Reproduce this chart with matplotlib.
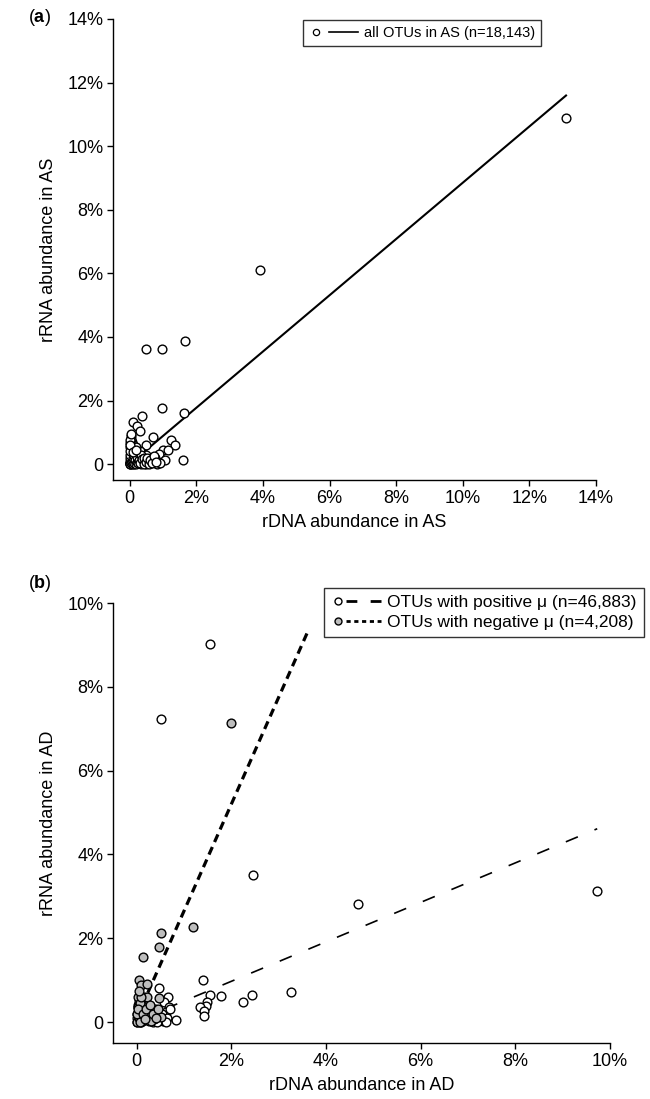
import matplotlib
matplotlib.use("Agg")
import matplotlib.pyplot as plt
from matplotlib.lines import Line2D
from matplotlib.legend_handler import HandlerBase
import numpy as np

plt.rcParams['font.family'] = ['Liberation Sans', 'DejaVu Sans']
plt.rcParams['mathtext.fontset'] = 'custom'
plt.rcParams['mathtext.rm'] = 'Liberation Sans'
plt.rcParams['mathtext.bf'] = 'Liberation Sans:bold'

# ---------------- data panel (a) ----------------
a_x = [13.1, 3.9, 0.48, 0.97, 1.67, 0.97, 1.62, 0.37, 0.10, 0.21, 0.32, 0.05, 0.70, 1.24,
       1.36, 0.48, 1.01, 1.14, 0.88, 1.05, 1.59, 0.83,
       0.00, 0.01, 0.02, 0.03, 0.05, 0.04, 0.06, 0.08, 0.10, 0.12, 0.15, 0.18, 0.20, 0.22,
       0.25, 0.28, 0.30, 0.35, 0.40, 0.45, 0.50, 0.55, 0.60, 0.65, 0.03, 0.05, 0.08, 0.02,
       0.10, 0.06, 0.15, 0.25, 0.40, 0.12, 0.30, 0.50, 0.07, 0.70, 0.75, 0.02, 0.04, 0.18,
       0.35, 0.90,
       0.00, 0.00, 0.00, 0.00, 0.01, 0.02, 0.04, 0.06, 0.09, 0.11, 0.13, 0.14, 0.16, 0.19,
       0.21, 0.23, 0.26, 0.29, 0.32, 0.33, 0.37, 0.42, 0.44, 0.48, 0.52, 0.57, 0.62, 0.68,
       0.72, 0.80, 0.01, 0.03, 0.00, 0.09, 0.20]
a_y = [10.9, 6.1, 3.62, 3.62, 3.86, 1.77, 1.60, 1.52, 1.32, 1.19, 1.05, 0.89, 0.84, 0.77,
       0.59, 0.60, 0.43, 0.43, 0.31, 0.12, 0.12, 0.00,
       0.00, 0.02, 0.05, 0.10, 0.00, 0.15, 0.20, 0.05, 0.10, 0.00, 0.08, 0.03, 0.15, 0.05,
       0.10, 0.02, 0.20, 0.08, 0.05, 0.12, 0.00, 0.10, 0.05, 0.20, 0.30, 0.40, 0.50, 0.55,
       0.60, 0.70, 0.35, 0.30, 0.25, 0.45, 0.40, 0.30, 0.25, 0.10, 0.20, 0.65, 0.80, 0.55,
       0.00, 0.05,
       0.05, 0.10, 0.20, 0.30, 0.40, 0.00, 0.02, 0.08, 0.00, 0.18, 0.05, 0.25, 0.12, 0.00,
       0.08, 0.22, 0.03, 0.12, 0.05, 0.28, 0.15, 0.00, 0.20, 0.08, 0.18, 0.00, 0.12, 0.03,
       0.25, 0.08, 0.75, 0.95, 0.60, 0.38, 0.45]
a_fit = {"slope": 0.885, "intercept": 0.0, "xmin": 0.0, "xmax": 13.1}
a_label = "all OTUs in AS (n=18,143)"
a_xticks = [0, 2, 4, 6, 8, 10, 12, 14]
a_yticks = [0, 2, 4, 6, 8, 10, 12, 14]

# ---------------- data panel (b) ----------------
bp_x = [1.54, 0.52, 2.46, 4.67, 9.73, 1.40, 0.47, 1.54, 1.79, 2.44, 3.25, 2.24, 1.49, 1.46,
        1.34, 1.43, 1.43, 0.66, 0.58, 0.68, 0.61, 0.83,
        0.00, 0.02, 0.05, 0.08, 0.10, 0.15, 0.20, 0.25, 0.30, 0.35, 0.40, 0.45, 0.50, 0.55,
        0.03, 0.06, 0.12, 0.18, 0.28, 0.38, 0.02, 0.08, 0.60, 0.48,
        0.00, 0.01, 0.03, 0.05, 0.07, 0.10, 0.13, 0.16, 0.22, 0.27, 0.32, 0.42, 0.53, 0.65,
        0.70, 0.62]
bp_y = [9.02, 7.23, 3.52, 2.82, 3.13, 1.01, 0.81, 0.65, 0.63, 0.65, 0.72, 0.47, 0.49, 0.39,
        0.35, 0.27, 0.15, 0.59, 0.47, 0.37, 0.25, 0.05,
        0.00, 0.05, 0.02, 0.10, 0.00, 0.06, 0.12, 0.03, 0.08, 0.00, 0.05, 0.15, 0.10, 0.02,
        0.20, 0.30, 0.25, 0.18, 0.22, 0.30, 0.40, 0.45, 0.10, 0.25,
        0.10, 0.20, 0.35, 0.50, 0.00, 0.15, 0.30, 0.05, 0.10, 0.20, 0.15, 0.00, 0.20, 0.10,
        0.30, 0.00]
bn_x = [1.99, 1.20, 0.52, 0.47, 0.13, 0.04, 0.10, 0.21, 0.47, 0.03, 0.15, 0.22, 0.03, 0.17,
        0.32, 0.37, 0.51, 0.00, 0.05, 0.10, 0.08, 0.25, 0.30, 0.12,
        0.00, 0.02, 0.06, 0.14, 0.18, 0.20, 0.28, 0.35, 0.40, 0.45, 0.09, 0.05]
bn_y = [7.14, 2.28, 2.12, 1.79, 1.55, 1.01, 0.88, 0.90, 0.57, 0.59, 0.59, 0.59, 0.35, 0.35,
        0.23, 0.07, 0.11, 0.00, 0.10, 0.20, 0.45, 0.12, 0.02, 0.05,
        0.20, 0.30, 0.00, 0.20, 0.08, 0.30, 0.40, 0.20, 0.10, 0.30, 0.60, 0.75]
bp_fit = {"slope": 0.471, "intercept": 0.03, "xmin": 0.0, "xmax": 9.73}
bn_fit = {"slope": 2.55, "intercept": 0.10, "xmin": 0.0, "xmax": 3.6}
bp_label = "OTUs with positive \u03bc (n=46,883)"
bn_label = "OTUs with negative \u03bc (n=4,208)"
b_xticks = [0, 2, 4, 6, 8, 10]
b_yticks = [0, 2, 4, 6, 8, 10]


def pct(v):
    return "0" if v == 0 else f"{v:g}%"


class MarkerLineHandler(HandlerBase):
    """Legend key: small marker on the left, a line segment to its right."""

    def __init__(self, mx=4.0, lstart=0.32, **kw):
        super().__init__(**kw)
        self.mx = mx
        self.lstart = lstart

    def create_artists(self, legend, orig_handle, xdescent, ydescent, width, height,
                       fontsize, trans):
        mk, ln = orig_handle
        y = height / 2.0 - ydescent
        x0 = -xdescent
        m = Line2D([x0 + self.mx], [y])
        m.update_from(mk)
        m.set_linestyle("none")
        l = Line2D([x0 + self.lstart * width, x0 + width], [y, y])
        l.update_from(ln)
        l.set_marker("")
        m.set_transform(trans)
        l.set_transform(trans)
        return [m, l]


W, H = 650, 1099
fig = plt.figure(figsize=(W / 100, H / 100), dpi=100)


def style_axes(ax, xticks, yticks, xlim, ylim):
    ax.set_xlim(*xlim)
    ax.set_ylim(*ylim)
    ax.set_xticks(xticks)
    ax.set_yticks(yticks)
    ax.set_xticklabels([pct(v) for v in xticks])
    ax.set_yticklabels([pct(v) for v in yticks])
    for s in ("top", "right"):
        ax.spines[s].set_visible(False)
    for s in ("left", "bottom"):
        ax.spines[s].set_linewidth(1.0)
    ax.tick_params(direction="out", length=4, width=1.0, labelsize=13, pad=3)


ms = 6.3
# ---------- panel (a) ----------
axa = fig.add_axes([113 / W, 1 - 480 / H, 483 / W, 461 / H])
axa.plot(a_x, a_y, linestyle="none", marker="o", ms=ms, mfc="white", mec="black", mew=1.0,
         zorder=3)
fx = np.array([a_fit["xmin"], a_fit["xmax"]])
axa.plot(fx, a_fit["intercept"] + a_fit["slope"] * fx, color="black", lw=1.5, zorder=2)
style_axes(axa, a_xticks, a_yticks, (-0.5, 14), (-0.5, 14))
axa.set_xlabel("rDNA abundance in AS", fontsize=13, labelpad=5)
axa.set_ylabel("rRNA abundance in AS", fontsize=13, labelpad=7)
h_m = Line2D([], [], linestyle="none", marker="o", ms=4.5, mfc="white", mec="black", mew=0.9)
h_l = Line2D([], [], color="black", lw=1.2)
leg = axa.legend([(h_m, h_l)], [a_label],
                 handler_map={tuple: MarkerLineHandler(mx=5.0, lstart=0.40)},
                 loc="upper left", bbox_to_anchor=(303 / W, 1 - 20 / H), bbox_transform=fig.transFigure,
                 fontsize=10.5, frameon=True, fancybox=False, edgecolor="black", handlelength=3.4,
                 borderpad=0.4, handletextpad=0.4, borderaxespad=0)
leg.get_frame().set_linewidth(1.0)
fig.text(28 / W, 1 - 18 / H, r"($\mathbf{a}$)", fontsize=13, va="center", ha="left")

# ---------- panel (b) ----------
axb = fig.add_axes([113 / W, 1 - 1043 / H, 497 / W, 440 / H])
axb.plot(bp_x, bp_y, linestyle="none", marker="o", ms=ms, mfc="white", mec="black", mew=1.0,
         zorder=3)
axb.plot(bn_x, bn_y, linestyle="none", marker="o", ms=ms, mfc="#bdbdbd", mec="black", mew=1.0,
         zorder=3)
fx = np.array([bp_fit["xmin"], bp_fit["xmax"]])
axb.plot(fx, bp_fit["intercept"] + bp_fit["slope"] * fx, color="black", lw=1.2,
         dashes=(7.8, 10.8), zorder=2)
fx = np.array([bn_fit["xmin"], bn_fit["xmax"]])
axb.plot(fx, bn_fit["intercept"] + bn_fit["slope"] * fx, color="black", lw=2.3,
         dashes=(2.6, 1.7), zorder=2)
style_axes(axb, b_xticks, b_yticks, (-0.5, 10), (-0.5, 10))
axb.set_xlabel("rDNA abundance in AD", fontsize=13, labelpad=5)
axb.set_ylabel("rRNA abundance in AD", fontsize=13, labelpad=7)
hp_m = Line2D([], [], linestyle="none", marker="o", ms=5.0, mfc="white", mec="black", mew=1.0)
hp_l = Line2D([], [], color="black", lw=2.0, dashes=(3.9, 4.8))
hn_m = Line2D([], [], linestyle="none", marker="o", ms=5.0, mfc="#bdbdbd", mec="black", mew=1.0)
hn_l = Line2D([], [], color="black", lw=2.0, dashes=(1.5, 1.3))
legb = axb.legend([(hp_m, hp_l), (hn_m, hn_l)], [bp_label, bn_label],
                  handler_map={tuple: MarkerLineHandler(mx=5.0, lstart=0.30)},
                  loc="upper left", bbox_to_anchor=(324 / W, 1 - 588 / H), bbox_transform=fig.transFigure,
                  fontsize=12.5, frameon=True, fancybox=False, edgecolor="black", handlelength=2.9,
                  borderpad=0.4, handletextpad=0.35, borderaxespad=0, labelspacing=0.3)
legb.get_frame().set_linewidth(1.0)
fig.text(28 / W, 1 - 583 / H, r"($\mathbf{b}$)", fontsize=13, va="center", ha="left")

fig.savefig("out.png", dpi=100)
